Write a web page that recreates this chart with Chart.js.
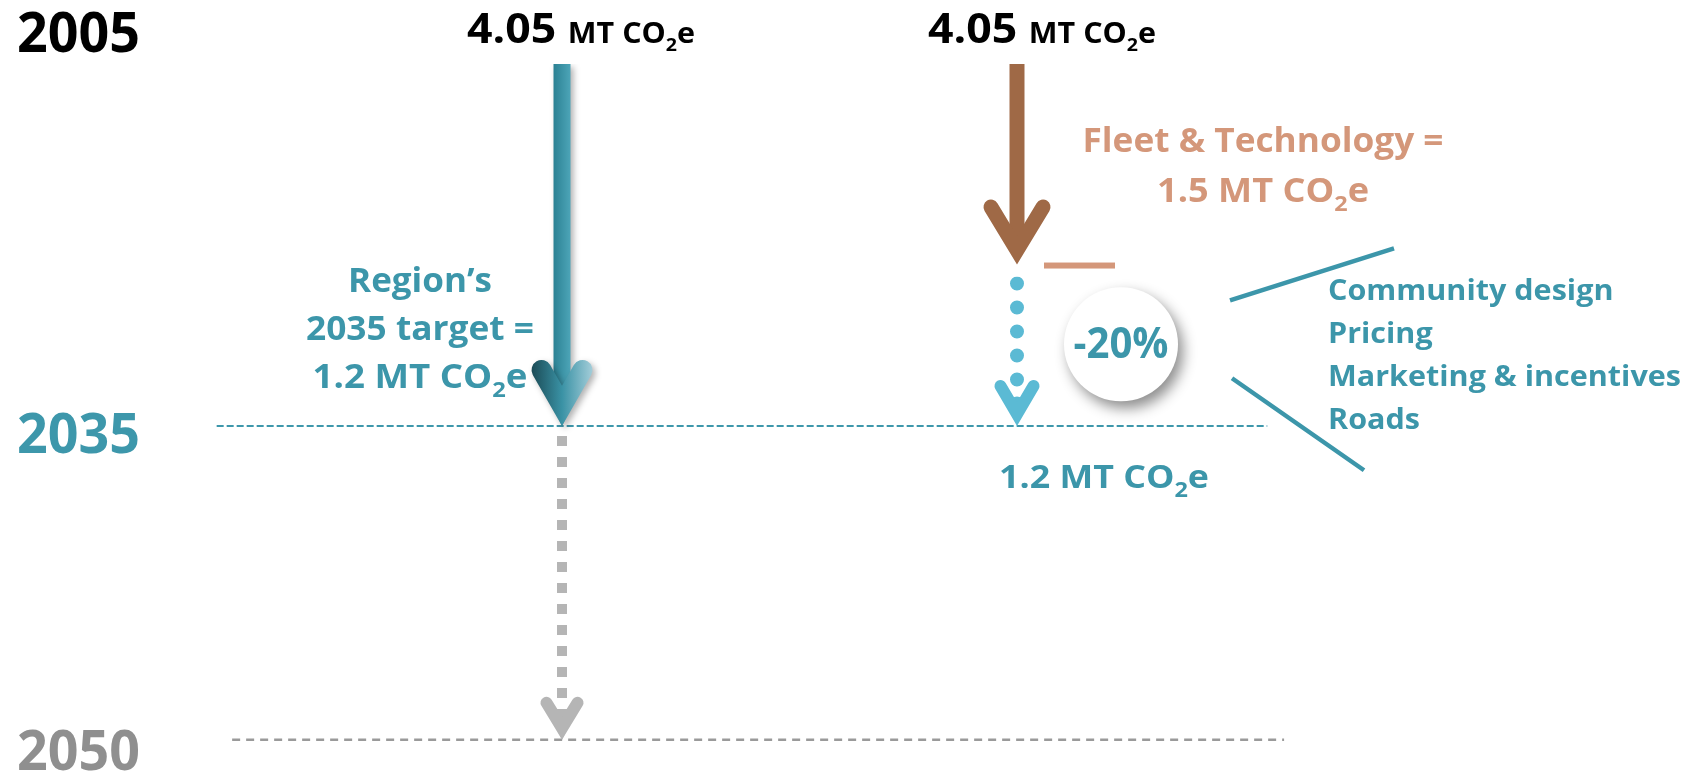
<!DOCTYPE html>
<html>
<head>
<meta charset="utf-8">
<title>Transport emissions: 2005 to 2035</title>
<script src="https://cdn.jsdelivr.net/npm/chart.js@4.4.1/dist/chart.umd.min.js"></script>
<style>
  html, body { margin: 0; padding: 0; background: #fff; }
  #wrap { width: 1704px; height: 775px; }
</style>
</head>
<body>
<div id="wrap"><canvas id="chart" width="1704" height="775"></canvas></div>
<script>
// values, MT CO2e
const years = ["2005", "2035", "2050"];
const yearLevels = [4.05, 1.2, -1.27]; // where each year row sits on the emissions axis
const start2005 = [4.05, 4.05];       // column 1: region target, column 2: how it gets there
const target2035 = [1.2, 1.2];
const fleetTech = 1.5;
const otherMeasuresPct = -20;
const levers = ["Community design", "Pricing", "Marketing & incentives", "Roads"];

const TEAL = "#3c96aa";
const BROWN = "#9f6946";
const SALMON = "#d4977a";
const SKY = "#5bbad4";
const GREY = "#b5b5b5";
const FONT = "'Open Sans'";

function chevron(ctx, tx, ty, halfW, h, w, style) {
  const r = w / 2;
  const ax = halfW - r, ay = h - r;
  let e = r;
  for (let i = 0; i < 8; i++) e = r / Math.sin(Math.atan2(ax, ay - e));
  ctx.beginPath();
  ctx.moveTo(tx - ax, ty - ay);
  ctx.lineTo(tx, ty - e);
  ctx.lineTo(tx + ax, ty - ay);
  ctx.lineWidth = w;
  ctx.lineCap = "round";
  ctx.lineJoin = "miter";
  ctx.miterLimit = 20;
  ctx.strokeStyle = style;
  ctx.stroke();
}

// parts: [text, size, dy]
function richText(ctx, parts, x, y, color, opts) {
  opts = opts || {};
  let natural = 0;
  parts.forEach((p) => {
    ctx.font = "700 " + p[1] + "px " + FONT;
    natural += ctx.measureText(p[0]).width;
  });
  const sx = opts.width ? opts.width / natural : opts.sx || 1;
  ctx.save();
  ctx.translate(x, y);
  ctx.scale(sx, 1);
  ctx.fillStyle = color;
  ctx.textBaseline = "alphabetic";
  ctx.textAlign = "left";
  let cx = opts.align === "left" ? 0 : -natural / 2;
  parts.forEach((p) => {
    ctx.font = "700 " + p[1] + "px " + FONT;
    ctx.fillText(p[0], cx, p[2] || 0);
    cx += ctx.measureText(p[0]).width;
  });
  ctx.restore();
  return natural;
}

function co2(prefix, size, sub) {
  return [[prefix + "CO", size], ["2", sub, sub * 0.42], ["e", size]];
}

function tealShaft(c) {
  const chart = c.chart;
  if (!chart.chartArea) return TEAL;
  const x = chart.scales.x.getPixelForValue(1);
  const g = chart.ctx.createLinearGradient(x - 9, 0, x + 9, 0);
  g.addColorStop(0, "#2a8092");
  g.addColorStop(1, "#4ea6b9");
  return g;
}

const arrowPlugin = {
  id: "arrows",
  beforeDatasetDraw(chart, args) {
    const ds = chart.data.datasets[args.index];
    const ctx = chart.ctx;
    ctx.save();
    if (ds.shadow) {
      ctx.shadowColor = ds.shadow[0];
      ctx.shadowBlur = ds.shadow[1];
      ctx.shadowOffsetX = ds.shadow[2];
      ctx.shadowOffsetY = ds.shadow[3];
    }
    if (!ds.arrow && !ds.trimStart) return;
    const pts = args.meta.data;
    const a = pts[0], b = pts[pts.length - 1];
    ctx.beginPath();
    ctx.rect(0, a.y + (ds.trimStart || 0), chart.width, 2000);
    if (ds.arrow) {
      const hw = ds.arrow.halfW * 3, hh = ds.arrow.h * 3;
      const ty = b.y + (ds.arrow.tipOffset || 0);
      ctx.moveTo(b.x - hw, ty - hh);
      ctx.lineTo(b.x, ty);
      ctx.lineTo(b.x + hw, ty - hh);
      ctx.lineTo(b.x + hw, ty + 80);
      ctx.lineTo(b.x - hw, ty + 80);
      ctx.closePath();
    }
    ctx.clip("evenodd");
  },
  afterDatasetDraw(chart, args) {
    const ds = chart.data.datasets[args.index];
    const ctx = chart.ctx;
    ctx.restore();
    if (!ds.arrow) return;
    const pts = args.meta.data;
    const b = pts[pts.length - 1];
    const ar = ds.arrow;
    const ty = b.y + (ar.tipOffset || 0);
    ctx.save();
    if (ds.shadow) {
      ctx.shadowColor = ds.shadow[0];
      ctx.shadowBlur = ds.shadow[1];
      ctx.shadowOffsetX = ds.shadow[2];
      ctx.shadowOffsetY = ds.shadow[3];
    }
    let style = ar.color;
    if (ar.gradient) {
      const g = ctx.createLinearGradient(b.x - ar.halfW, 0, b.x + ar.halfW, 0);
      g.addColorStop(0, "#1b4b56");
      g.addColorStop(0.5, "#3a92a5");
      g.addColorStop(1, "#a3cdd9");
      style = g;
    }
    chevron(ctx, b.x, ty, ar.halfW, ar.h, ar.w, style);
    ctx.restore();
  },
  afterDatasetsDraw(chart) {
    const ctx = chart.ctx;
    const x = chart.scales.x, y = chart.scales.y;
    const c1 = x.getPixelForValue(1), c2 = x.getPixelForValue(2);
    const fleetEnd = y.getPixelForValue(start2005[1] - fleetTech);
    const tgt = y.getPixelForValue(target2035[1]);

    // year labels down the left side
    const yearColors = ["#000000", "#3d97ab", "#8f8f8f"];
    const yearShift = [-12, 27, 30];
    years.forEach((yr, i) => {
      richText(ctx, [[yr, 55]], 17, y.getPixelForValue(yearLevels[i]) + yearShift[i],
        yearColors[i], { align: "left", width: 123 });
    });

    // 2005 totals above each column
    const big = (v) => [[v.toFixed(2) + " ", 41], ...co2("MT ", 28, 18)];
    richText(ctx, big(start2005[0]), c1 + 19, 43, "#000", { width: 228 });
    richText(ctx, big(start2005[1]), c2 + 25, 43, "#000", { width: 228 });

    // target note next to column 1
    richText(ctx, [["Region\u2019s", 34]], c1 - 142, 292, TEAL, { width: 144 });
    richText(ctx, [[years[1] + " target =", 34]], c1 - 142, 340, TEAL, { width: 228 });
    richText(ctx, co2(target2035[0].toFixed(1) + " MT ", 34, 22), c1 - 142, 388, TEAL, { width: 215 });

    // fleet & technology note
    richText(ctx, [["Fleet & Technology =", 34]], c2 + 246, 152, SALMON, { width: 361 });
    richText(ctx, co2(fleetTech.toFixed(1) + " MT ", 34, 22), c2 + 246, 202, SALMON, { width: 212 });

    // small minus bar at the end of the fleet arrow
    ctx.save();
    ctx.fillStyle = SALMON;
    ctx.fillRect(c2 + 27, fleetEnd + 8, 71, 6);
    ctx.restore();

    // bubble with the remaining share
    const cx = c2 + 104, cy = (fleetEnd + tgt) / 2 + 4;
    ctx.save();
    ctx.shadowColor = "rgba(0,0,0,0.45)";
    ctx.shadowBlur = 14;
    ctx.shadowOffsetX = 5;
    ctx.shadowOffsetY = 7;
    ctx.beginPath();
    ctx.arc(cx, cy, 57, 0, Math.PI * 2);
    ctx.fillStyle = "#fff";
    ctx.fill();
    ctx.restore();
    richText(ctx, [[otherMeasuresPct + "%", 43]], cx, cy + 14, TEAL, { width: 95 });

    // leader lines to the list of levers
    ctx.save();
    ctx.strokeStyle = TEAL;
    ctx.lineWidth = 4.5;
    ctx.beginPath();
    ctx.moveTo(cx + 109, cy - 44);
    ctx.lineTo(cx + 273, cy - 96);
    ctx.moveTo(cx + 111, cy + 34);
    ctx.lineTo(cx + 243, cy + 126);
    ctx.stroke();
    ctx.restore();

    ctx.font = "700 29px " + FONT;
    const widest = Math.max(...levers.map((t) => ctx.measureText(t).width));
    const sx = 353 / widest;
    levers.forEach((t, i) => {
      richText(ctx, [[t, 29]], c2 + 311, 300 + i * 43, TEAL, { align: "left", sx: sx });
    });

    // result under the 2035 line
    richText(ctx, co2(target2035[1].toFixed(1) + " MT ", 32, 21), c2 + 87, 488, TEAL, { width: 210 });
  },
};

const ctx = document.getElementById("chart").getContext("2d");

new Chart(ctx, {
  type: "scatter",
  data: {
    datasets: [
      {
        label: "Region's 2035 target",
        data: [{ x: 1, y: start2005[0] }, { x: 1, y: target2035[0] }],
        borderColor: tealShaft,
        borderWidth: 17,
        borderCapStyle: "butt",
        shadow: ["rgba(0,0,0,0.3)", 6, 3, 3],
        arrow: { halfW: 30.5, h: 66, w: 20, gradient: true },
      },
      {
        label: "Fleet & Technology",
        data: [{ x: 2, y: start2005[1] }, { x: 2, y: start2005[1] - fleetTech }],
        borderColor: BROWN,
        borderWidth: 15,
        borderCapStyle: "butt",
        arrow: { halfW: 33.5, h: 65, w: 15, color: BROWN, tipOffset: 10 },
      },
      {
        label: "Other measures",
        data: [{ x: 2, y: start2005[1] - fleetTech }, { x: 2, y: target2035[1] }],
        borderColor: SKY,
        borderWidth: 14,
        borderCapStyle: "round",
        borderDash: [0, 24],
        borderDashOffset: 19,
        trimStart: 22,
        arrow: { halfW: 22.5, h: 46, w: 12, color: SKY },
      },
      {
        label: "Beyond 2035",
        data: [{ x: 1, y: target2035[0] }, { x: 1, y: yearLevels[2] }],
        borderColor: GREY,
        borderWidth: 10,
        borderCapStyle: "butt",
        borderDash: [10, 11],
        borderDashOffset: 11,
        arrow: { halfW: 21.5, h: 43, w: 12, color: GREY },
      },
      {
        label: years[1],
        data: [{ x: 0.241, y: yearLevels[1] }, { x: 2.55, y: yearLevels[1] }],
        borderColor: "#3d97ab",
        borderWidth: 2,
        borderDash: [7, 3],
      },
      {
        label: years[2],
        data: [{ x: 0.275, y: yearLevels[2] }, { x: 2.587, y: yearLevels[2] }],
        borderColor: "#9a9a9a",
        borderWidth: 2.5,
        borderDash: [8, 6],
      },
    ].map((d) => Object.assign({ showLine: true, pointRadius: 0, clip: false }, d)),
  },
  options: {
    responsive: false,
    animation: false,
    events: [],
    layout: { padding: 0 },
    plugins: { legend: { display: false }, tooltip: { enabled: false } },
    scales: {
      x: { type: "linear", display: false, min: -0.2352, max: 3.5099 },
      y: { type: "linear", display: false, min: -1.5475, max: 4.5539 },
    },
  },
  plugins: [arrowPlugin],
});
</script>
</body>
</html>
